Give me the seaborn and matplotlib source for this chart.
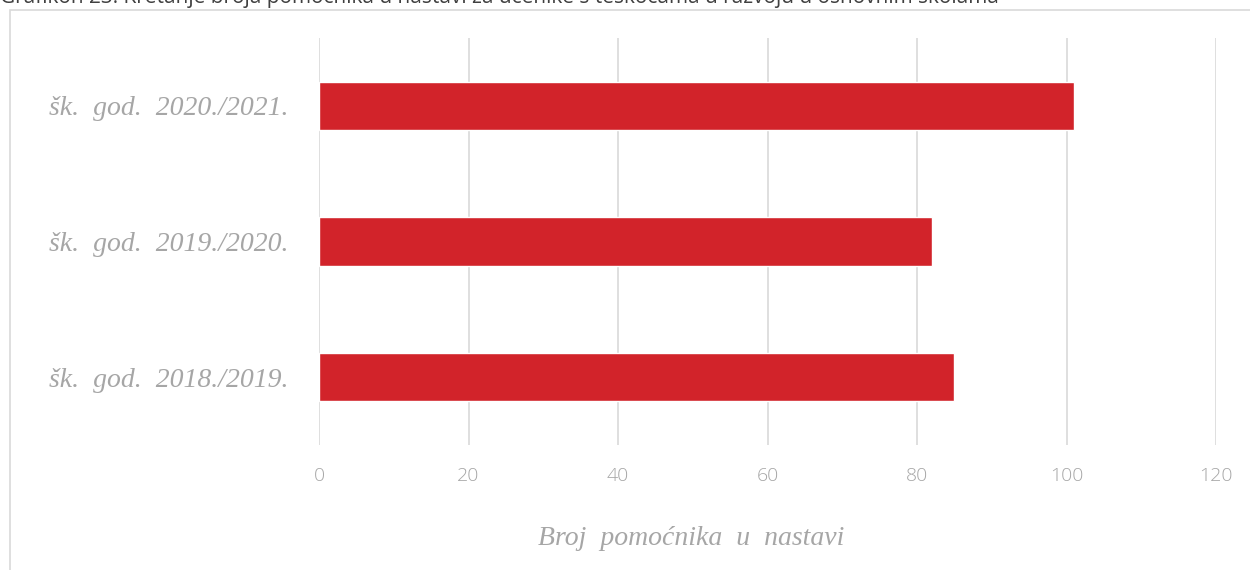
import matplotlib
matplotlib.use("Agg")
import matplotlib.pyplot as plt
import matplotlib.patches as patches
import seaborn as sns
import pandas as pd

# data (top to bottom)
years = ["šk.  god.  2020./2021.", "šk.  god.  2019./2020.", "šk.  god.  2018./2019."]
assistants = [101, 82, 85]
x_ticks = [0, 20, 40, 60, 80, 100, 120]

title = ("Grafikon 23. Kretanje broja pomoćnika u nastavi za učenike s teškoćama "
         "u razvoju u osnovnim školama")
x_label = "Broj  pomoćnika  u  nastavi"

df = pd.DataFrame({"year": years, "count": assistants})

sns.set_theme(style="white")
plt.rcParams["font.family"] = ["Open Sans", "DejaVu Sans"]

fig = plt.figure(figsize=(12.5, 5.7), dpi=100)
ax = fig.add_axes([0.2552, 0.2193, 0.7176, 0.7140])

sns.barplot(data=df, x="count", y="year", order=years, color="#d2232a",
            width=0.355, saturation=1, ax=ax)

ax.set_xlim(0, 120)
ax.set_xticks(x_ticks)
ax.set_xticklabels([str(t) for t in x_ticks], fontsize=14, color="#a6a6a6",
                   fontweight="light")
ax.set_yticks(range(len(years)))
ax.set_yticklabels(years, fontsize=20, color="#a6a6a6",
                   family="Liberation Serif", style="italic")
ax.tick_params(axis="x", length=0, pad=16)
ax.tick_params(axis="y", length=0, pad=22)

ax.grid(axis="x", color="#d9d9d9", linewidth=1.2)
ax.set_axisbelow(True)
for s in ax.spines.values():
    s.set_visible(False)

ax.set_ylabel("")
ax.set_xlabel(x_label, fontsize=20, color="#a6a6a6",
              family="Liberation Serif", style="italic")
ax.xaxis.set_label_coords(0.415, -0.20)

# outer chart border (extends past the bottom/right edge like the screenshot)
border = patches.Rectangle((10 / 1250, -0.05), 1.05, 1 - 10 / 570 + 0.05,
                           transform=fig.transFigure, fill=False,
                           edgecolor="#d9d9d9", linewidth=1.2, clip_on=False)
fig.patches.append(border)

# title is cut off at the top edge in the original
fig.text(0.0, 1 + 3 / 570, title, ha="left", va="center", fontsize=15,
         color="#404040")

fig.savefig("out.png", dpi=100)
